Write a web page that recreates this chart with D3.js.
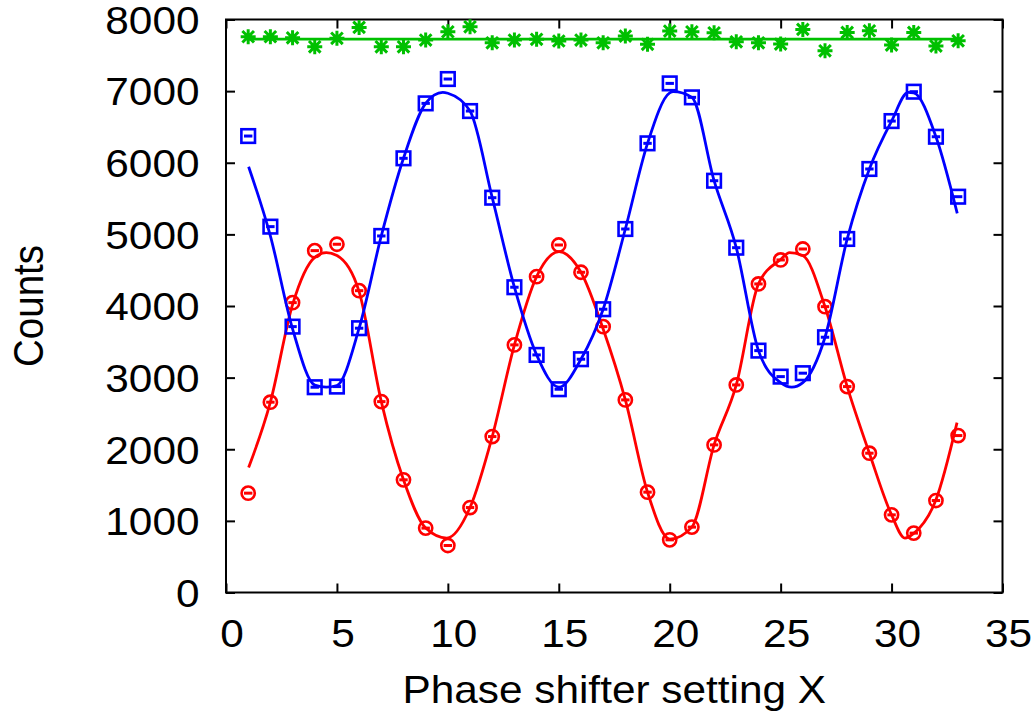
<!DOCTYPE html>
<html>
<head>
<meta charset="utf-8">
<script src="https://cdn.jsdelivr.net/npm/d3@7"></script>
<style>
  body { margin: 0; background: #fff; }
  svg { display: block; }
</style>
</head>
<body>
<svg id="chart" width="1035" height="724"></svg>
<script>
// ---------------- data ----------------
const xTicks = [0, 5, 10, 15, 20, 25, 30, 35];
const yTicks = [0, 1000, 2000, 3000, 4000, 5000, 6000, 7000, 8000];

const settings = [1,2,3,4,5,6,7,8,9,10,11,12,13,14,15,16,17,18,19,20,21,22,23,24,25,26,27,28,29,30,31,32,33];

const greenCounts = [7759,7759,7745,7619,7737,7890,7619,7619,7713,7829,7898,7675,7713,7723,7700,7713,7675,
                     7769,7653,7838,7829,7815,7689,7675,7657,7862,7563,7820,7843,7643,7820,7629,7703];
const blueCounts  = [6373,5108,3712,2866,2875,3690,4978,6062,6829,7169,6722,5512,4262,3317,2838,3257,3955,
                     5075,6271,7108,6913,5749,4814,3377,3014,3062,3564,4936,5913,6582,6992,6363,5526];
const redCounts   = [1387,2657,4047,4773,4862,4214,2665,1573,899,656,1186,2177,3457,4410,4852,4471,3712,
                     2689,1401,735,913,2061,2898,4308,4643,4796,3991,2875,1945,1084,829,1284,2191];

// fitted curves
const blueFitX = [1.02,2,3,4,4.52,5,6,7,8,9,9.77,10,11,12,13,14,15.01,16,17,18,19,20,20.16,21,22,23,24,25,25.5,26,27,28,29,30,30.75,31,32,32.96];
const blueFitY = [5945,4980,3680,2895,2866,2890,3690,4978,6062,6829,6983,6970,6722,5512,4262,3317,2866,3257,3955,5075,6271,6975,6992,6913,5749,4814,3377,2930,2866,2930,3564,4936,5913,6582,6983,6975,6363,5294];
const redFitX  = [1.02,2,3,4,4.52,5,6,7,8,9,9.95,11,12,13,14,15.01,16,17,18,19,20.01,21,22,23,24,25,25.4,26,27,28,29,30,30.6,31,32,32.95];
const redFitY  = [1744,2657,4020,4680,4745,4705,4200,2665,1573,899,759,1186,2177,3457,4410,4759,4471,3680,2689,1401,745,913,2061,2898,4308,4650,4745,4705,3990,2875,1945,1084,760,825,1294,2372];
const greenFitX = [1, 33];
const greenFitY = [7727, 7727];

// ---------------- drawing ----------------
const svg = d3.select("#chart");
const FONT = '"Liberation Sans", Arial, Helvetica, sans-serif';
const FS = 38.5, SX = 1.1;

const x = d3.scaleLinear().domain([0, 35]).range([226, 1002.5]);
const y = d3.scaleLinear().domain([0, 8000]).range([592.5, 19.5]);

function styleTicks(g) {
  g.select(".domain").remove();
  g.selectAll(".tick line").attr("stroke", "#000").attr("stroke-width", 2);
}

// left axis with labels
const gL = svg.append("g")
  .attr("transform", `translate(${x(0)},0)`)
  .call(d3.axisLeft(y).tickValues(yTicks).tickSize(-9).tickPadding(0).tickFormat(d3.format("d")));
styleTicks(gL);
gL.selectAll(".tick text")
  .attr("x", 0).attr("dy", "0.36em")
  .attr("font-family", FONT).attr("font-size", FS).attr("fill", "#000")
  .attr("transform", `translate(-26.5,0) scale(${SX},1)`);

// bottom axis with labels
const gB = svg.append("g")
  .attr("transform", `translate(0,${y(0)})`)
  .call(d3.axisBottom(x).tickValues(xTicks).tickSize(-9).tickPadding(0).tickFormat(d3.format("d")));
styleTicks(gB);
gB.selectAll(".tick text")
  .attr("y", 0).attr("dy", "0.71em")
  .attr("font-family", FONT).attr("font-size", FS).attr("fill", "#000")
  .attr("transform", `translate(5.5,27.5) scale(${SX},1)`);

// mirrored ticks (right, top)
const gR = svg.append("g")
  .attr("transform", `translate(${x(35)},0)`)
  .call(d3.axisRight(y).tickValues(yTicks).tickSize(-9).tickFormat(""));
styleTicks(gR);
const gT = svg.append("g")
  .attr("transform", `translate(0,${y(8000)})`)
  .call(d3.axisTop(x).tickValues(xTicks).tickSize(-9).tickFormat(""));
styleTicks(gT);

// frame
svg.append("rect")
  .attr("x", x(0)).attr("y", y(8000))
  .attr("width", x(35) - x(0)).attr("height", y(0) - y(8000))
  .attr("fill", "none").attr("stroke", "#000").attr("stroke-width", 2);

// axis titles
svg.append("text")
  .attr("transform", `translate(43,${(y(0) + y(8000)) / 2}) scale(${SX},1) rotate(-90)`)
  .attr("text-anchor", "middle")
  .attr("font-family", FONT).attr("font-size", FS).attr("fill", "#000")
  .text("Counts");
svg.append("text")
  .attr("transform", `translate(${(x(0) + x(35)) / 2},703) scale(${SX},1)`)
  .attr("text-anchor", "middle")
  .attr("font-family", FONT).attr("font-size", FS).attr("fill", "#000")
  .text("Phase shifter setting X");

const line = d3.line().x(d => x(d[0])).y(d => y(d[1])).curve(d3.curveMonotoneX);
function fitPath(xs, ys, color) {
  svg.append("path")
    .attr("d", line(d3.zip(xs, ys)))
    .attr("fill", "none").attr("stroke", color).attr("stroke-width", 2.8)
    .attr("stroke-linejoin", "round");
}

const RED = "#ff0000", BLUE = "#0000ff", GREEN = "#00c000";

// red series
fitPath(redFitX, redFitY, RED);
const gRed = svg.append("g").selectAll("g").data(d3.zip(settings, redCounts)).join("g")
  .attr("transform", d => `translate(${x(d[0])},${y(d[1])})`);
gRed.append("circle").attr("r", 6.6).attr("fill", "none").attr("stroke", RED).attr("stroke-width", 2.6);
gRed.append("rect").attr("x", -4.2).attr("y", -1.5).attr("width", 8.4).attr("height", 3).attr("fill", RED);

// blue series
fitPath(blueFitX, blueFitY, BLUE);
const gBlue = svg.append("g").selectAll("g").data(d3.zip(settings, blueCounts)).join("g")
  .attr("transform", d => `translate(${x(d[0])},${y(d[1])})`);
gBlue.append("rect").attr("x", -6.8).attr("y", -6.8).attr("width", 13.6).attr("height", 13.6)
  .attr("fill", "none").attr("stroke", BLUE).attr("stroke-width", 2.6);
gBlue.append("rect").attr("x", -4.2).attr("y", -1.5).attr("width", 8.4).attr("height", 3).attr("fill", BLUE);

// green series
fitPath(greenFitX, greenFitY, GREEN);
svg.append("g").selectAll("path").data(d3.zip(settings, greenCounts)).join("path")
  .attr("transform", d => `translate(${x(d[0])},${y(d[1])})`)
  .attr("d", "M-7.5,0H7.5M0,-7.5V7.5M-5.8,-5.8L5.8,5.8M-5.8,5.8L5.8,-5.8")
  .attr("fill", "none").attr("stroke", GREEN).attr("stroke-width", 3);
</script>
</body>
</html>
